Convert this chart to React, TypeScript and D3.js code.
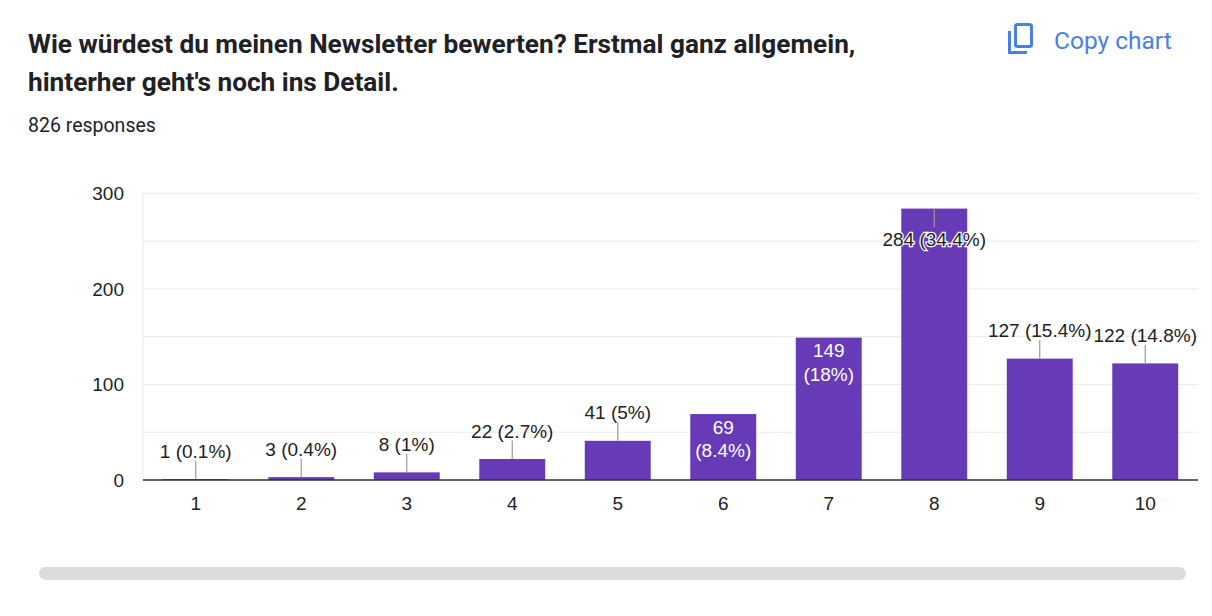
import React from "react";
import * as d3 from "d3";

const categories = ["1", "2", "3", "4", "5", "6", "7", "8", "9", "10"];
const counts = [1, 3, 8, 22, 41, 69, 149, 284, 127, 122];
const percents = ["0.1%", "0.4%", "1%", "2.7%", "5%", "8.4%", "18%", "34.4%", "15.4%", "14.8%"];
const yTicks = [0, 100, 200, 300];
const gridValues = [0, 50, 100, 150, 200, 250, 300];
const titleLines = [
  "Wie würdest du meinen Newsletter bewerten? Erstmal ganz allgemein,",
  "hinterher geht's noch ins Detail.",
];
const responsesText = "826 responses";
const insideTwoLine = new Set(["6", "7"]);

const W = 1212;
const H = 616;
const PL = 143;
const PR = 1198;
const PT = 193.3;
const PB = 480;
const PURPLE = "#673ab7";
const FONT = "Arial, 'Liberation Sans', sans-serif";

export default function App() {
  const x = d3
    .scaleBand<string>()
    .domain(categories)
    .range([PL, PR])
    .paddingInner(0.375)
    .paddingOuter(0.1875);
  const y = d3.scaleLinear().domain([0, 300]).range([PB, PT]);
  const maxV = d3.max(counts) as number;

  return (
    <svg
      width={W}
      height={H}
      style={{ position: "absolute", left: 0, top: 0, background: "#fff" }}
    >
      {/* Title */}
      {titleLines.map((t, i) => (
        <text
          key={i}
          x={28}
          y={52.5 + i * 38}
          fontFamily="Roboto, sans-serif"
          fontWeight={700}
          fontSize={26.2}
          fill="#202124"
        >
          {t}
        </text>
      ))}
      <text x={28} y={132} fontFamily="Roboto, sans-serif" fontSize={19.5} fill="#202124">
        {responsesText}
      </text>

      {/* Copy chart */}
      <g fill="none" stroke="#4a7fe4" strokeWidth={3}>
        <rect x={1015.5} y={24.5} width={16} height={22} rx={2} />
        <path d="M1009.5 31 V52.5 H1027" />
      </g>
      <text x={1054} y={48.5} fontFamily="Roboto, sans-serif" fontSize={24.5} fill="#4a7fe4">
        Copy chart
      </text>

      {/* Grid */}
      {gridValues.map((v) => (
        <line key={v} x1={PL} x2={PR} y1={y(v)} y2={y(v)} stroke="#ebebeb" strokeWidth={1} />
      ))}
      <line x1={PL} x2={PL} y1={PT} y2={PB} stroke="#ebebeb" strokeWidth={1} />

      {/* Y labels */}
      {yTicks.map((v) => (
        <text
          key={v}
          x={124}
          y={y(v)}
          dy="0.35em"
          textAnchor="end"
          fontFamily={FONT}
          fontSize={19}
          fill="#222"
        >
          {v}
        </text>
      ))}

      {/* Bars */}
      {categories.map((c, i) => {
        const bx = x(c) as number;
        const bw = x.bandwidth();
        const top = y(counts[i]);
        return <rect key={c} x={bx} y={top} width={bw} height={PB - top} fill={PURPLE} />;
      })}

      {/* Baseline */}
      <line x1={PL} x2={PR} y1={PB} y2={PB} stroke="#333" strokeWidth={1.5} />

      {/* X labels */}
      {categories.map((c) => (
        <text
          key={c}
          x={(x(c) as number) + x.bandwidth() / 2}
          y={503}
          dy="0.35em"
          textAnchor="middle"
          fontFamily={FONT}
          fontSize={19}
          fill="#222"
        >
          {c}
        </text>
      ))}

      {/* Data labels */}
      {categories.map((c, i) => {
        const cx = (x(c) as number) + x.bandwidth() / 2;
        const top = y(counts[i]);
        const label = `${counts[i]} (${percents[i]})`;
        if (counts[i] === maxV) {
          return (
            <g key={c}>
              <line x1={cx} x2={cx} y1={top} y2={top + 19} stroke="#999" strokeWidth={1.2} />
              <text
                x={cx}
                y={top + 31}
                dy="0.35em"
                textAnchor="middle"
                fontFamily={FONT}
                fontSize={19}
                fill="#222"
                stroke="#fff"
                strokeWidth={2.5}
                paintOrder="stroke"
              >
                {label}
              </text>
            </g>
          );
        }
        if (insideTwoLine.has(c)) {
          return (
            <g key={c} fontFamily={FONT} fontSize={19} fill="#fff" textAnchor="middle">
              <text x={cx} y={top + 13} dy="0.35em">
                {counts[i]}
              </text>
              <text x={cx} y={top + 36.5} dy="0.35em">
                ({percents[i]})
              </text>
            </g>
          );
        }
        return (
          <g key={c}>
            <line x1={cx} x2={cx} y1={top} y2={top - 18.5} stroke="#999" strokeWidth={1.2} />
            <text
              x={cx}
              y={top - 28}
              dy="0.35em"
              textAnchor="middle"
              fontFamily={FONT}
              fontSize={19}
              fill="#222"
            >
              {label}
            </text>
          </g>
        );
      })}

      {/* Scrollbar */}
      <rect x={39} y={567} width={1147} height={13} rx={6.5} fill="#dadce0" />
    </svg>
  );
}
